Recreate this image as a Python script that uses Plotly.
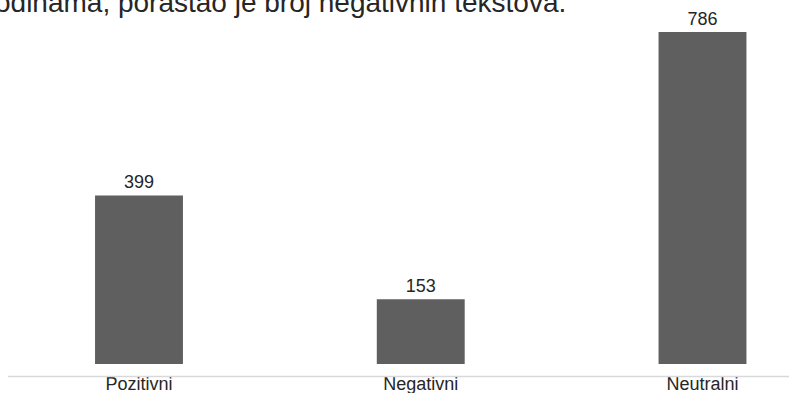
import plotly.graph_objects as go

# Broj tekstova po sentimentu
categories = ["Pozitivni", "Negativni", "Neutralni"]
counts = [399, 153, 786]
title_text = "odinama, porastao je broj negativnih tekstova."

W, H = 789, 393
bar_color = "#5f5f5f"
text_color = "#262626"
font_family = "Liberation Sans, Arial, sans-serif"

fig = go.Figure(
    go.Bar(
        x=categories,
        y=counts,
        width=0.312,
        marker=dict(color=bar_color, line=dict(width=0)),
        text=[str(v) for v in counts],
        textposition="outside",
        textfont=dict(family=font_family, size=18, color=text_color),
        cliponaxis=False,
        hoverinfo="skip",
    )
)

plot_h = 364
fig.update_layout(
    width=W,
    height=H,
    margin=dict(l=0, r=0, t=0, b=H - plot_h),
    paper_bgcolor="white",
    plot_bgcolor="white",
    showlegend=False,
    xaxis=dict(
        type="category",
        range=[-0.4933, 2.307],
        automargin=False,
        showgrid=False,
        zeroline=False,
        showline=False,
        ticks="",
        ticklabelstandoff=7,
        tickfont=dict(family=font_family, size=18, color=text_color),
        fixedrange=True,
    ),
    yaxis=dict(
        range=[0, 861.7],
        visible=False,
        automargin=False,
        fixedrange=True,
    ),
    shapes=[
        dict(
            type="line",
            xref="paper",
            yref="paper",
            x0=8 / W,
            x1=1,
            y0=-12.5 / plot_h,
            y1=-12.5 / plot_h,
            line=dict(color="#d9d9d9", width=1.5),
        )
    ],
    annotations=[
        dict(
            text=title_text,
            xref="paper",
            yref="paper",
            x=0,
            y=1,
            xanchor="left",
            yanchor="middle",
            xshift=-7,
            yshift=-2,
            showarrow=False,
            font=dict(family=font_family, size=28, color=text_color),
        )
    ],
)

fig.write_html("out.html")
